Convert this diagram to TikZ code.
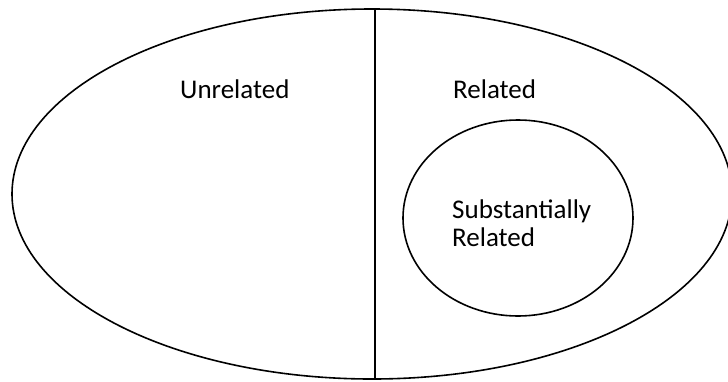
\documentclass[tikz,border=0pt]{standalone}
\usepackage{fontspec}
\setmainfont{Carlito}
\begin{document}
\begin{tikzpicture}[x=1pt,y=-1pt,
  shapeline/.style={line width=1.6pt, draw=black},
  lbl/.style={anchor=base west, inner sep=0pt, align=left, font=\fontsize{27}{29}\selectfont}]
\useasboundingbox (0,0) rectangle (728,381);
\draw[shapeline] (372,194) ellipse [x radius=360pt, y radius=185pt];
\draw[shapeline] (518,218) ellipse [x radius=115pt, y radius=98pt];
\coordinate (vtop) at (375,9);
\coordinate (vbot) at (375,379);
\draw[shapeline] (vtop) -- (vbot);
\node[lbl] (unrel) at (180,98) {Unrelated};
\node[lbl] (rel) at (453,98) {Related};
\node[lbl] (subst) at (452,218) {Substantially};
\node[lbl] (subrel) at (452,246) {Related};
\end{tikzpicture}
\end{document}
